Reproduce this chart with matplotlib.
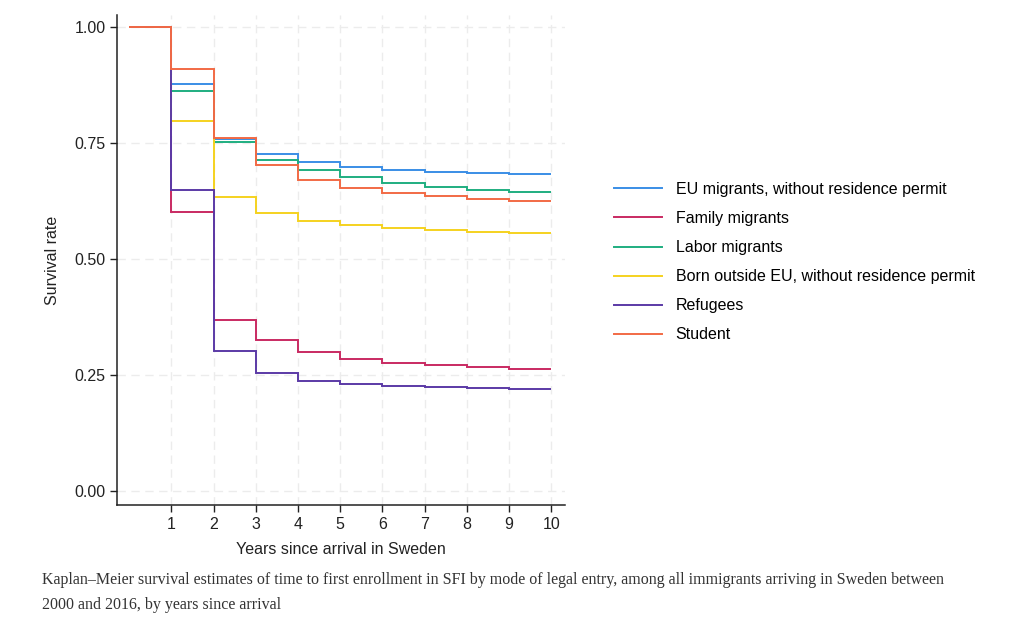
import matplotlib.pyplot as plt
import numpy as np

# ============================================================
# DATA
# ============================================================

years = np.arange(0, 11)  # interval edges 0..10

eu_migrants = [1.000, 0.876, 0.758, 0.726, 0.709, 0.699, 0.692, 0.688, 0.685, 0.683]
family_migrants = [1.000, 0.601, 0.369, 0.325, 0.300, 0.285, 0.277, 0.272, 0.268, 0.264]
labor_migrants = [1.000, 0.862, 0.753, 0.714, 0.692, 0.677, 0.664, 0.656, 0.649, 0.644]
born_outside_eu = [1.000, 0.798, 0.634, 0.600, 0.583, 0.573, 0.567, 0.562, 0.559, 0.557]
refugees = [1.000, 0.649, 0.301, 0.255, 0.237, 0.230, 0.227, 0.225, 0.222, 0.221]
student = [1.000, 0.909, 0.760, 0.703, 0.670, 0.654, 0.643, 0.635, 0.629, 0.624]

labels = [
    "EU migrants, without residence permit",
    "Family migrants",
    "Labor migrants",
    "Born outside EU, without residence permit",
    "Refugees",
    "Student",
]
series = [eu_migrants, family_migrants, labor_migrants,
          born_outside_eu, refugees, student]
colors = ["#3a8ee6", "#c92a62", "#1fae80", "#f5d21f", "#5b3aa6", "#f26a45"]

x_ticks = list(range(1, 11))
y_ticks = [0.0, 0.25, 0.5, 0.75, 1.0]
caption = (
    "Kaplan\u2013Meier survival estimates of time to first enrollment in SFI by mode "
    "of legal entry, among all immigrants arriving in Sweden between\n"
    "2000 and 2016, by years since arrival"
)

# ============================================================
# PLOT
# ============================================================

plt.rcParams["font.family"] = ["Liberation Sans", "DejaVu Sans"]

fig = plt.figure(figsize=(10.2, 6.19), dpi=100)
ax = fig.add_axes([0.115, 0.184, 0.439, 0.792])

for vals, lab, col in zip(series, labels, colors):
    ax.stairs(vals, years, baseline=None, color=col, linewidth=1.4, label=lab)

ax.set_xlim(-0.28, 10.33)
ax.set_ylim(-0.03, 1.026)
ax.set_xticks(x_ticks)
ax.set_yticks(y_ticks)
ax.set_yticklabels([f"{v:.2f}" for v in y_ticks])
ax.tick_params(axis="both", labelsize=11.5, colors="#222222", length=5,
               width=1, direction="out")

ax.grid(True, color="#ececec", linestyle=(0, (6, 4)), linewidth=1)
ax.set_axisbelow(True)

for side in ["top", "right"]:
    ax.spines[side].set_visible(False)
for side in ["left", "bottom"]:
    ax.spines[side].set_color("#222222")
    ax.spines[side].set_linewidth(1.1)

ax.set_xlabel("Years since arrival in Sweden", fontsize=11.5, color="#222222",
              labelpad=7.5)
ax.set_ylabel("Survival rate", fontsize=11.5, color="#222222", labelpad=10)

ax.legend(
    loc="center left",
    bbox_to_anchor=(0.588, 0.5765),
    bbox_transform=fig.transFigure,
    frameon=False,
    fontsize=11.5,
    handlelength=3.0,
    handletextpad=0.85,
    labelspacing=0.88,
)

fig.text(0.041, 0.0765, caption, fontsize=11.5,
         family=["Liberation Serif", "DejaVu Serif"],
         color="#333333", linespacing=1.74, va="top", ha="left")

fig.savefig("out.png", dpi=100)
